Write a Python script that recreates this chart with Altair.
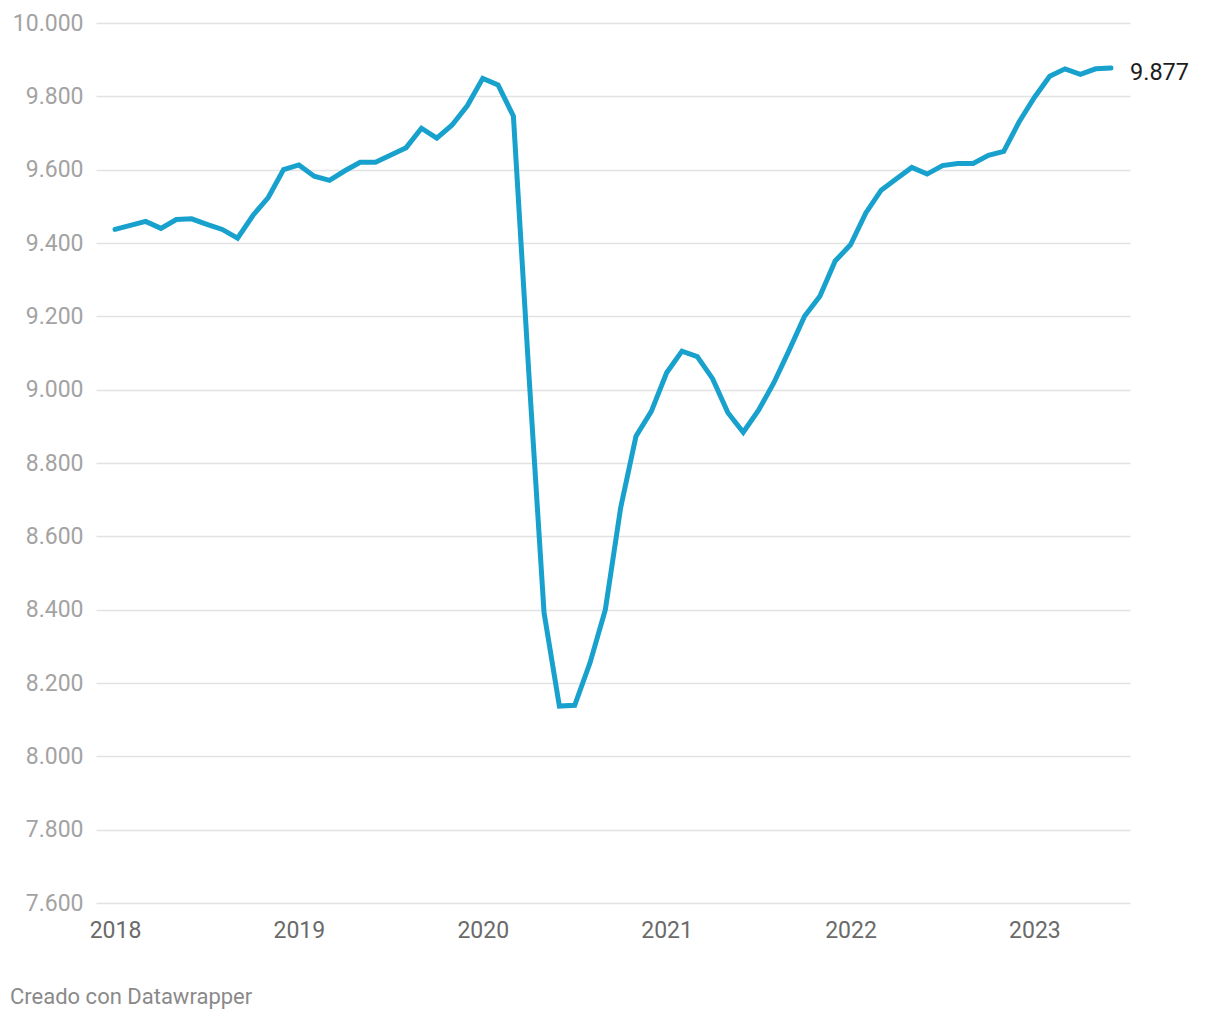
import altair as alt
import pandas as pd

months = [f"{y}-{m:02d}" for y in range(2018, 2024) for m in range(1, 13)][:66]

values = [
    9437, 9448, 9459, 9440, 9464, 9466, 9451, 9437, 9413, 9475, 9524, 9600,
    9613, 9582, 9571, 9597, 9620, 9620, 9640, 9660, 9713, 9686, 9722, 9775,
    9849, 9831, 9746, 9050, 8392, 8137, 8139, 8255, 8400, 8678, 8873, 8941,
    9046, 9105, 9090, 9030, 8937, 8884, 8944, 9019, 9108, 9200, 9255, 9351,
    9395, 9482, 9544, 9575, 9606, 9588, 9611, 9617, 9617, 9639, 9650, 9730,
    9797, 9855, 9875, 9860, 9875, 9877,
]

year_labels = ["2018", "2019", "2020", "2021", "2022", "2023"]
y_ticks = [7600, 7800, 8000, 8200, 8400, 8600, 8800, 9000, 9200, 9400, 9600, 9800, 10000]
credit = "Creado con Datawrapper"

df = pd.DataFrame({"month": months, "idx": list(range(len(months))), "value": values})
df["label"] = [f"{v:,}".replace(",", ".") for v in df["value"]]
last = df.tail(1)

FONT = "Roboto"

x_enc = alt.X(
    "idx:Q",
    scale=alt.Scale(domain=[-1.24, 66.24], nice=False, zero=False),
    axis=alt.Axis(
        values=[i * 12 for i in range(len(year_labels))],
        labelExpr="'' + (2018 + floor(datum.value / 12))",
        grid=False, domain=False, ticks=False,
        labelFont=FONT, labelFontSize=23, labelColor="#6a6a6a",
        labelPadding=16, title=None,
    ),
)
y_enc = alt.Y(
    "value:Q",
    scale=alt.Scale(domain=[7600, 10000], nice=False, zero=False),
    axis=alt.Axis(
        values=y_ticks,
        labelExpr="replace(format(datum.value, ','), ',', '.')",
        grid=True, gridColor="#e2e2e2", gridWidth=1.5,
        domain=False, ticks=False,
        labelFont=FONT, labelFontSize=23, labelColor="#a3a3a3",
        labelPadding=13, title=None,
    ),
)

line = alt.Chart(df).mark_line(
    color="#18a1cd", strokeWidth=5, strokeJoin="miter", strokeCap="round"
).encode(x=x_enc, y=y_enc)

end_label = alt.Chart(last).mark_text(
    align="left", baseline="middle", dx=19, dy=5, font=FONT, fontSize=23.5, color="#1d1d1d"
).encode(x="idx:Q", y="value:Q", text="label:N")

credit_mark = alt.Chart(pd.DataFrame({"t": [credit]})).mark_text(
    align="left", baseline="middle", font=FONT, fontSize=22, color="#8a8a8a"
).encode(x=alt.value(-86), y=alt.value(974), text="t:N")

chart = alt.layer(line, end_label, credit_mark).properties(
    width=1034,
    height=880,
    padding={"left": 96, "top": 23, "right": 90, "bottom": 117},
    autosize=alt.AutoSizeParams(type="none"),
    background="white",
).configure_view(strokeWidth=0)

chart.save("out.html", embed_options={"renderer": "svg", "actions": False})
